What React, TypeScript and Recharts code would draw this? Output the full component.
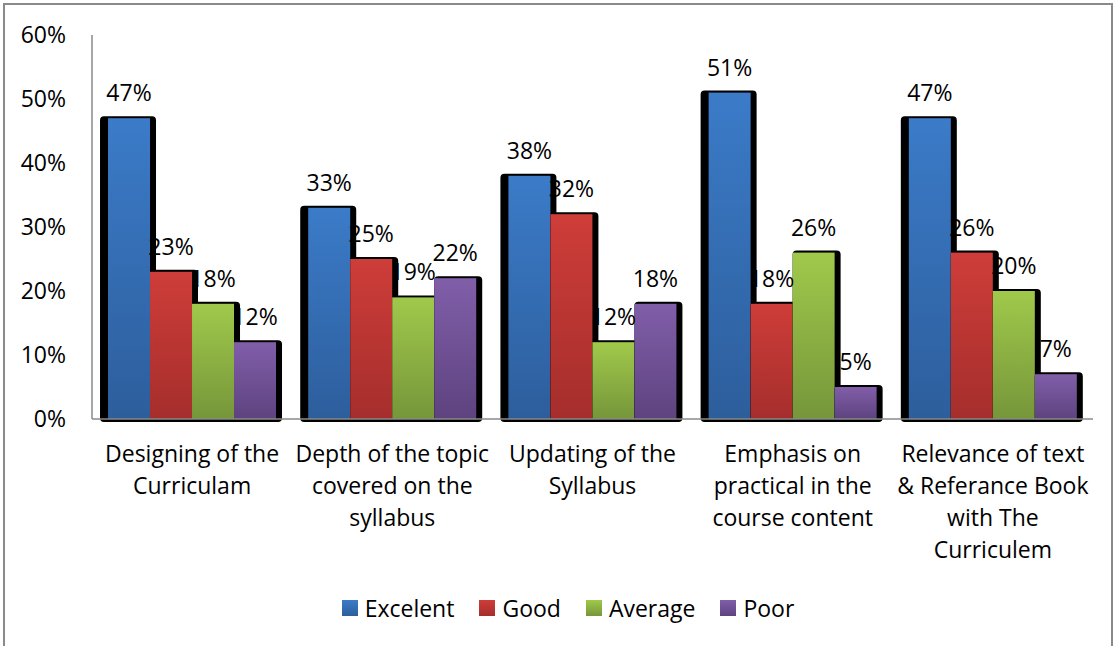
import { Bar, BarChart, LabelList, XAxis, YAxis } from 'recharts';

const categories = [
  'Designing of the\nCurriculam',
  'Depth of the topic\ncovered on the\nsyllabus',
  'Updating of the\nSyllabus',
  'Emphasis on\npractical in the\ncourse content',
  'Relevance of text\n& Referance Book\nwith The\nCurriculem',
];
const excelent = [47, 33, 38, 51, 47];
const good = [23, 25, 32, 18, 26];
const average = [18, 19, 12, 26, 20];
const poor = [12, 22, 18, 5, 7];
const yTicks = [0, 10, 20, 30, 40, 50, 60];

const series = [
  { key: 'excelent', name: 'Excelent', top: '#3b7bc8', bottom: '#2d5e9c' },
  { key: 'good', name: 'Good', top: '#ce3d39', bottom: '#a52e2c' },
  { key: 'average', name: 'Average', top: '#a0c94b', bottom: '#76963a' },
  { key: 'poor', name: 'Poor', top: '#805ea9', bottom: '#5e437f' },
];

const data = categories.map((name, i) => ({
  name,
  excelent: excelent[i],
  good: good[i],
  average: average[i],
  poor: poor[i],
}));

const FONT = "'Open Sans', sans-serif";

// bar with the black excel style shadow behind it
function makeShape(index: number) {
  return (props: any) => {
    const { x, y, width, height } = props;
    if (!height || height <= 0) return <g />;
    const left = index === 0 ? x - 8 : x;
    const right = x + width + 6;
    return (
      <g>
        <rect
          x={left}
          y={y - 2}
          width={right - left}
          height={height + 5}
          rx={4}
          fill='#000'
        />
        <rect
          x={x}
          y={y}
          width={width}
          height={height}
          fill={`url(#grad-${index})`}
        />
      </g>
    );
  };
}

function YTick(props: any) {
  const { y, payload } = props;
  return (
    <text x={66} y={y + 8} textAnchor='end' fontSize={23} fontFamily={FONT} fill='#000'>
      {`${payload.value}%`}
    </text>
  );
}

function XTick(props: any) {
  const { x, payload } = props;
  const lines = String(payload.value).split('\n');
  return (
    <text textAnchor='middle' fontSize={23} fontFamily={FONT} fill='#000'>
      {lines.map((line, i) => (
        <tspan key={i} x={x} y={462 + i * 32}>
          {line}
        </tspan>
      ))}
    </text>
  );
}

function ValueLabel(props: any) {
  const { x, y, width, value } = props;
  return (
    <text
      x={x + width / 2}
      y={y - 17}
      textAnchor='middle'
      fontSize={23}
      fontFamily={FONT}
      fill='#000'
    >
      {`${value}%`}
    </text>
  );
}

export default function App() {
  return (
    <div style={{ position: 'absolute', left: 0, top: 0, width: 1115, height: 646, background: '#fff', overflow: 'hidden' }}>
      <div
        style={{
          position: 'absolute',
          left: 3,
          top: 3,
          width: 1106,
          height: 700,
          border: '2px solid #8a8a8a',
        }}
      />
      <div style={{ position: 'absolute', left: 0, top: 0 }}>
        <BarChart
          width={1115}
          height={646}
          data={data}
          margin={{ top: 35, right: 22, left: 0, bottom: 0 }}
          barGap={0}
          barCategoryGap='8%'
        >
          <defs>
            {series.map((s, i) => (
              <linearGradient key={s.key} id={`grad-${i}`} x1='0' y1='0' x2='0' y2='1'>
                <stop offset='0%' stopColor={s.top} />
                <stop offset='100%' stopColor={s.bottom} />
              </linearGradient>
            ))}
          </defs>
          <XAxis
            dataKey='name'
            height={227}
            tickLine={false}
            axisLine={{ stroke: '#8a8a8a', strokeWidth: 1.5 }}
            tick={<XTick />}
            interval={0}
          />
          <YAxis
            width={92}
            domain={[0, 60]}
            ticks={yTicks}
            tickLine={false}
            axisLine={{ stroke: '#8a8a8a', strokeWidth: 1.5 }}
            tick={<YTick />}
            interval={0}
          />
          {series.map((s, i) => (
            <Bar
              key={s.key}
              dataKey={s.key}
              name={s.name}
              shape={makeShape(i)}
              isAnimationActive={false}
            >
              <LabelList dataKey={s.key} content={<ValueLabel />} />
            </Bar>
          ))}
        </BarChart>
      </div>
      <div
        style={{
          position: 'absolute',
          top: 592,
          left: 0,
          width: 1115,
          display: 'flex',
          justifyContent: 'center',
          paddingLeft: 46,
          boxSizing: 'border-box',
          fontFamily: FONT,
          fontSize: 23,
          color: '#000',
        }}
      >
        {series.map((s) => (
          <div key={s.key} style={{ display: 'flex', alignItems: 'center', marginRight: 25 }}>
            <div
              style={{
                width: 16,
                height: 16,
                marginRight: 7,
                background: `linear-gradient(${s.top}, ${s.bottom})`,
              }}
            />
            <span>{s.name}</span>
          </div>
        ))}
      </div>
    </div>
  );
}
